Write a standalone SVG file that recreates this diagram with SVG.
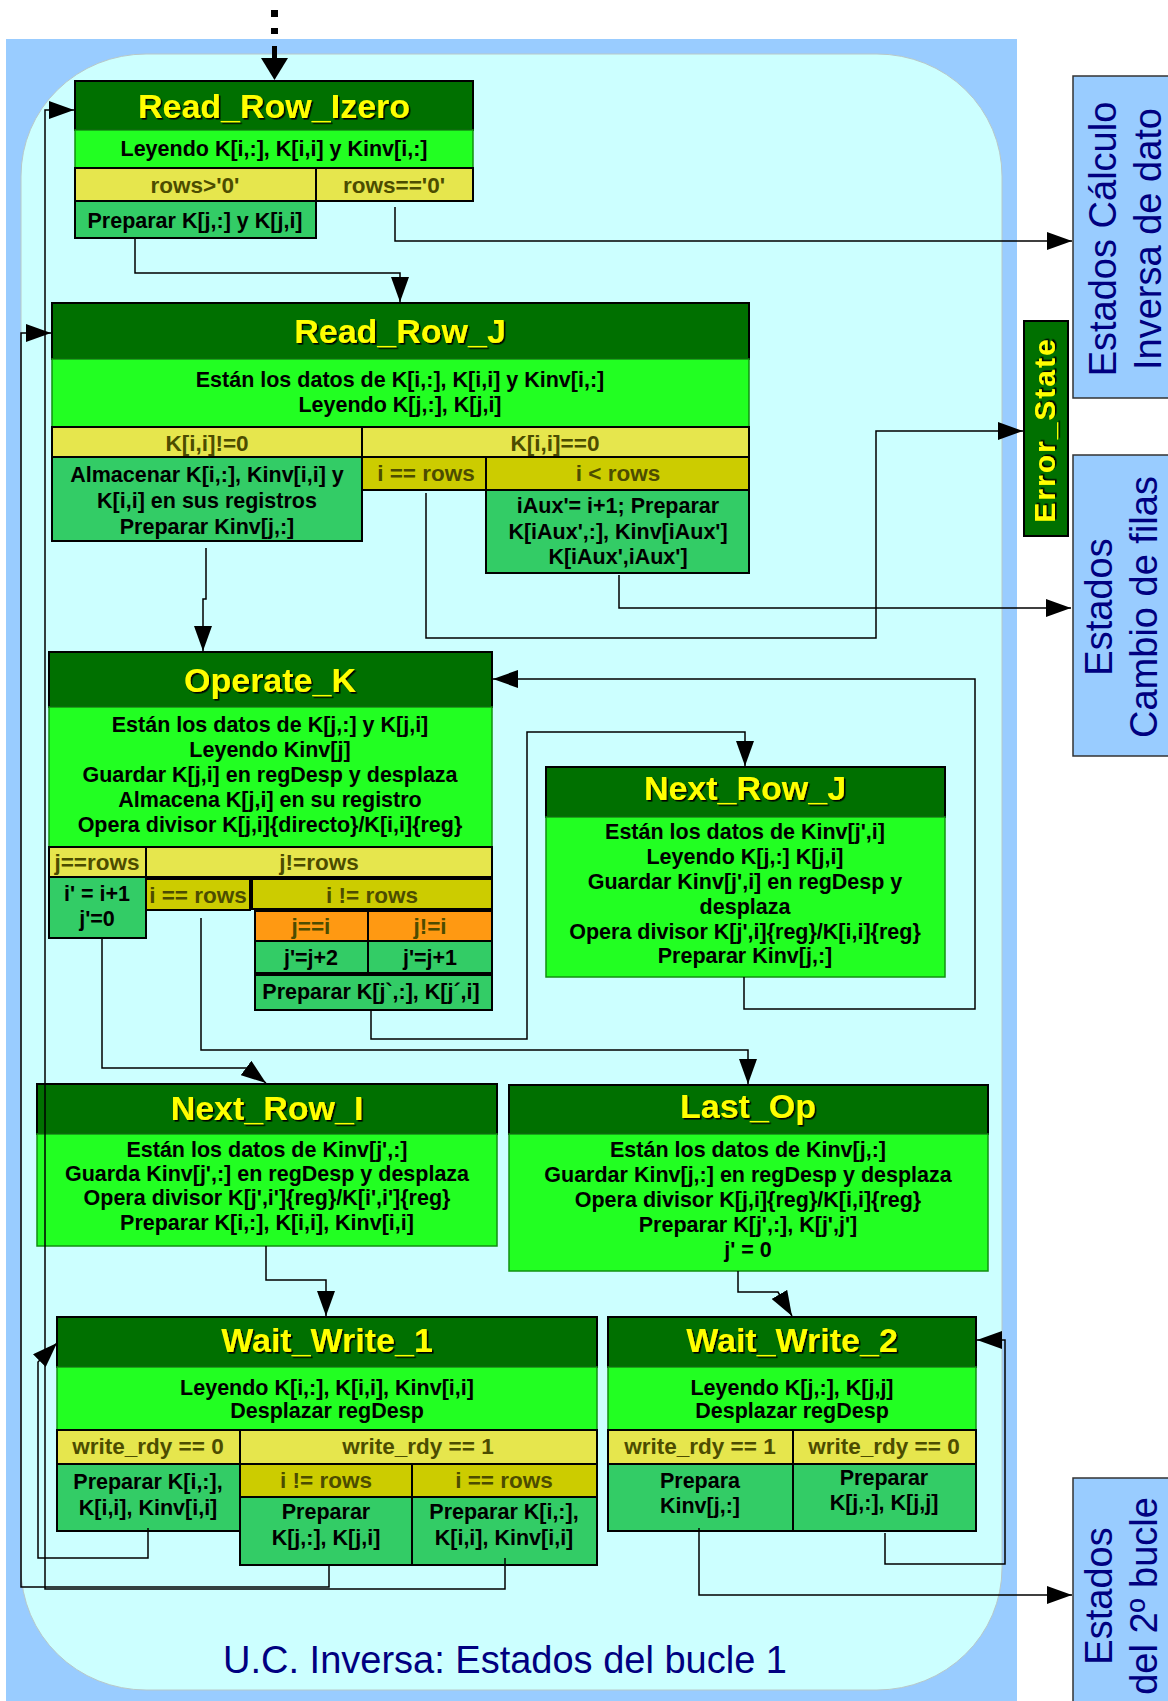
<svg xmlns="http://www.w3.org/2000/svg" width="1168" height="1701" viewBox="0 0 1168 1701">
<style>
.hdr{fill:#007000;stroke:#000;stroke-width:2}
.bdy{fill:#22ff22;stroke:#129012;stroke-width:1.5}
.cnd{fill:#e6e64d;stroke:#000;stroke-width:2}
.cnd2{fill:#cccc00;stroke:#000;stroke-width:2}
.org{fill:#ff9912;stroke:#000;stroke-width:2}
.act{fill:#33cc66;stroke:#000;stroke-width:2}
.side{fill:#99ccff;stroke:#333;stroke-width:1.5}
text{font-family:"Liberation Sans",Arial,sans-serif;text-anchor:middle}
.ttl{font-size:34px;font-weight:bold;fill:#ffff00;filter:url(#sh)}
.t{font-size:21.5px;font-weight:bold;fill:#000}
.c{font-size:22.5px;font-weight:bold;fill:#4c4c00}
.big{font-size:38px;fill:#000080}
.conn{fill:none;stroke:#000;stroke-width:1.5}
.arr{marker-end:url(#ah)}
</style>
<defs>
<filter id="sh" x="-5%" y="-20%" width="110%" height="140%">
<feDropShadow dx="1.6" dy="1.6" stdDeviation="0.2" flood-color="#000" flood-opacity="1"/>
</filter>
<marker id="ah" markerUnits="userSpaceOnUse" viewBox="0 0 25 18" markerWidth="25" markerHeight="18" refX="25" refY="9" orient="auto">
<path d="M0,0 L25,9 L0,18 z" fill="#000"/>
</marker>
</defs>

<g id="background">
<rect x="6" y="39" width="1011" height="1662" fill="#99ccff"/>
<rect x="21" y="54" width="981" height="1636" rx="125" ry="122" fill="#ccffff" stroke="#b8c8c8" stroke-width="1"/>
<text class="big" x="505" y="1673">U.C. Inversa: Estados del bucle 1</text>
</g>

<g id="read_row_izero">
<rect class="hdr" x="75" y="81" width="398" height="49"/>
<text class="ttl" x="274" y="118">Read_Row_Izero</text>
<rect class="bdy" x="75" y="130" width="398" height="38"/>
<text class="t" x="274" y="156">Leyendo K[i,:], K[i,i] y Kinv[i,:]</text>
<rect class="cnd" x="75" y="168" width="241" height="33"/>
<rect class="cnd" x="316" y="168" width="157" height="33"/>
<text class="c" x="195" y="193">rows&gt;'0'</text>
<text class="c" x="394" y="193">rows=='0'</text>
<rect class="act" x="75" y="201" width="241" height="37"/>
<text class="t" x="195" y="228">Preparar K[j,:] y K[j,i]</text>
</g>

<g id="read_row_j">
<rect class="hdr" x="52" y="303" width="697" height="56"/>
<text class="ttl" x="400" y="343">Read_Row_J</text>
<rect class="bdy" x="52" y="359" width="697" height="68"/>
<text class="t" x="400" y="387">Están los datos de K[i,:], K[i,i] y Kinv[i,:]</text>
<text class="t" x="400" y="412">Leyendo K[j,:], K[j,i]</text>
<rect class="cnd" x="52" y="427" width="310" height="30"/>
<rect class="cnd" x="362" y="427" width="387" height="30"/>
<text class="c" x="207" y="451">K[i,i]!=0</text>
<text class="c" x="555" y="451">K[i,i]==0</text>
<rect class="cnd2" x="362" y="457" width="124" height="33"/>
<rect class="cnd2" x="486" y="457" width="263" height="33"/>
<text class="c" x="426" y="481">i == rows</text>
<text class="c" x="618" y="481">i &lt; rows</text>
<rect class="act" x="52" y="457" width="310" height="84"/>
<text class="t" x="207" y="482">Almacenar K[i,:], Kinv[i,i] y</text>
<text class="t" x="207" y="508">K[i,i] en sus registros</text>
<text class="t" x="207" y="534">Preparar Kinv[j,:]</text>
<rect class="act" x="486" y="490" width="263" height="83"/>
<text class="t" x="618" y="513">iAux'= i+1; Preparar</text>
<text class="t" x="618" y="539">K[iAux',:], Kinv[iAux']</text>
<text class="t" x="618" y="564">K[iAux',iAux']</text>
</g>

<g id="operate_k">
<rect class="hdr" x="49" y="652" width="443" height="55"/>
<text class="ttl" x="270" y="692">Operate_K</text>
<rect class="bdy" x="49" y="707" width="443" height="140"/>
<text class="t" x="270" y="732">Están los datos de K[j,:] y K[j,i]</text>
<text class="t" x="270" y="757">Leyendo Kinv[j]</text>
<text class="t" x="270" y="782">Guardar K[j,i] en regDesp y desplaza</text>
<text class="t" x="270" y="807">Almacena K[j,i] en su registro</text>
<text class="t" x="270" y="832">Opera divisor K[j,i]{directo}/K[i,i]{reg}</text>
<rect class="cnd" x="49" y="847" width="97" height="30"/>
<rect class="cnd" x="146" y="847" width="346" height="30"/>
<text class="c" x="97" y="870">j==rows</text>
<text class="c" x="319" y="870">j!=rows</text>
<rect class="act" x="49" y="877" width="97" height="61"/>
<text class="t" x="97" y="901">i' = i+1</text>
<text class="t" x="97" y="926">j'=0</text>
<rect class="cnd2" x="146" y="879" width="104" height="31"/>
<rect class="cnd2" x="252" y="879" width="240" height="30"/>
<text class="c" x="198" y="903">i == rows</text>
<text class="c" x="372" y="903">i != rows</text>
<rect class="org" x="255" y="911" width="113" height="30"/>
<rect class="org" x="368" y="911" width="124" height="30"/>
<text class="c" x="311" y="934">j==i</text>
<text class="c" x="430" y="934">j!=i</text>
<rect class="act" x="255" y="941" width="113" height="32"/>
<rect class="act" x="368" y="941" width="124" height="32"/>
<text class="t" x="311" y="965">j'=j+2</text>
<text class="t" x="430" y="965">j'=j+1</text>
<rect class="act" x="255" y="975" width="237" height="35"/>
<text class="t" x="371" y="999">Preparar K[j`,:], K[j´,i]</text>
</g>

<g id="next_row_j">
<rect class="hdr" x="546" y="767" width="399" height="50"/>
<text class="ttl" x="745" y="800">Next_Row_J</text>
<rect class="bdy" x="546" y="817" width="399" height="160"/>
<text class="t" x="745" y="839">Están los datos de Kinv[j',i]</text>
<text class="t" x="745" y="864">Leyendo K[j,:] K[j,i]</text>
<text class="t" x="745" y="889">Guardar Kinv[j',i] en regDesp y</text>
<text class="t" x="745" y="914">desplaza</text>
<text class="t" x="745" y="939">Opera divisor K[j',i]{reg}/K[i,i]{reg}</text>
<text class="t" x="745" y="963">Preparar Kinv[j,:]</text>
</g>

<g id="next_row_i">
<rect class="hdr" x="37" y="1084" width="460" height="50"/>
<text class="ttl" x="267" y="1120">Next_Row_I</text>
<rect class="bdy" x="37" y="1134" width="460" height="112"/>
<text class="t" x="267" y="1157">Están los datos de Kinv[j',:]</text>
<text class="t" x="267" y="1181">Guarda Kinv[j',:] en regDesp y desplaza</text>
<text class="t" x="267" y="1205">Opera divisor K[j',i']{reg}/K[i',i']{reg}</text>
<text class="t" x="267" y="1230">Preparar K[i,:], K[i,i], Kinv[i,i]</text>
</g>

<g id="last_op">
<rect class="hdr" x="509" y="1085" width="479" height="49"/>
<text class="ttl" x="748" y="1118">Last_Op</text>
<rect class="bdy" x="509" y="1134" width="479" height="137"/>
<text class="t" x="748" y="1157">Están los datos de Kinv[j,:]</text>
<text class="t" x="748" y="1182">Guardar Kinv[j,:] en regDesp y desplaza</text>
<text class="t" x="748" y="1207">Opera divisor K[j,i]{reg}/K[i,i]{reg}</text>
<text class="t" x="748" y="1232">Preparar K[j',:], K[j',j']</text>
<text class="t" x="748" y="1257">j' = 0</text>
</g>

<g id="wait_write_1">
<rect class="hdr" x="57" y="1317" width="540" height="50"/>
<text class="ttl" x="327" y="1352">Wait_Write_1</text>
<rect class="bdy" x="57" y="1367" width="540" height="63"/>
<text class="t" x="327" y="1395">Leyendo K[i,:], K[i,i], Kinv[i,i]</text>
<text class="t" x="327" y="1418">Desplazar regDesp</text>
<rect class="cnd" x="57" y="1430" width="183" height="34"/>
<rect class="cnd" x="240" y="1430" width="357" height="34"/>
<text class="c" x="148" y="1454">write_rdy == 0</text>
<text class="c" x="418" y="1454">write_rdy == 1</text>
<rect class="act" x="57" y="1464" width="183" height="67"/>
<text class="t" x="148" y="1489">Preparar K[i,:],</text>
<text class="t" x="148" y="1515">K[i,i], Kinv[i,i]</text>
<rect class="cnd2" x="240" y="1464" width="172" height="33"/>
<rect class="cnd2" x="412" y="1464" width="185" height="33"/>
<text class="c" x="326" y="1488">i != rows</text>
<text class="c" x="504" y="1488">i == rows</text>
<rect class="act" x="240" y="1497" width="172" height="68"/>
<rect class="act" x="412" y="1497" width="185" height="68"/>
<text class="t" x="326" y="1519">Preparar</text>
<text class="t" x="326" y="1545">K[j,:], K[j,i]</text>
<text class="t" x="504" y="1519">Preparar K[i,:],</text>
<text class="t" x="504" y="1545">K[i,i], Kinv[i,i]</text>
</g>

<g id="wait_write_2">
<rect class="hdr" x="608" y="1317" width="368" height="50"/>
<text class="ttl" x="792" y="1352">Wait_Write_2</text>
<rect class="bdy" x="608" y="1367" width="368" height="63"/>
<text class="t" x="792" y="1395">Leyendo K[j,:], K[j,j]</text>
<text class="t" x="792" y="1418">Desplazar regDesp</text>
<rect class="cnd" x="608" y="1430" width="185" height="34"/>
<rect class="cnd" x="793" y="1430" width="183" height="34"/>
<text class="c" x="700" y="1454">write_rdy == 1</text>
<text class="c" x="884" y="1454">write_rdy == 0</text>
<rect class="act" x="608" y="1464" width="185" height="67"/>
<rect class="act" x="793" y="1464" width="183" height="67"/>
<text class="t" x="700" y="1488">Prepara</text>
<text class="t" x="700" y="1513">Kinv[j,:]</text>
<text class="t" x="884" y="1485">Preparar</text>
<text class="t" x="884" y="1510">K[j,:], K[j,j]</text>
</g>

<g id="error_state">
<rect x="1024" y="321" width="44" height="215" fill="#007000" stroke="#000" stroke-width="2"/>
<text class="ttl" transform="translate(1055,430) rotate(-90)" style="font-size:30px;letter-spacing:2px">Error_State</text>
</g>

<g id="estados_calculo">
<rect class="side" x="1073" y="76" width="100" height="322"/>
<text class="big" transform="translate(1116,239) rotate(-90)">Estados Cálculo</text>
<text class="big" transform="translate(1161,239) rotate(-90)">Inversa de dato</text>
</g>

<g id="estados_cambio">
<rect class="side" x="1073" y="455" width="100" height="301"/>
<text class="big" transform="translate(1112,607) rotate(-90)">Estados</text>
<text class="big" transform="translate(1157,607) rotate(-90)">Cambio de filas</text>
</g>

<g id="estados_bucle2">
<rect class="side" x="1073" y="1478" width="100" height="240"/>
<text class="big" transform="translate(1112,1596) rotate(-90)">Estados</text>
<text class="big" transform="translate(1157,1596) rotate(-90)">del 2º bucle</text>
</g>

<g id="connectors">
<rect x="271" y="10" width="7" height="7" fill="#000"/>
<rect x="271" y="28" width="7" height="6" fill="#000"/>
<line x1="274.5" y1="46" x2="274.5" y2="60" stroke="#000" stroke-width="5"/>
<polygon points="261,58 288,58 274.5,80" fill="#000"/>
<path class="conn arr" d="M135,238 V273 H400 V302"/>
<path class="conn arr" d="M395,207 V241 H1072"/>
<path class="conn arr" d="M206,548 V599 H203 V651"/>
<path class="conn arr" d="M426,493 V638 H876 V431 H1023"/>
<path class="conn arr" d="M619,575 V608 H1071"/>
<path class="conn arr" d="M102,938 V1068 H246 L266,1083"/>
<path class="conn arr" d="M201,918 V1050 H748 V1084"/>
<path class="conn arr" d="M371,1010 V1039 H527 V732 H745 V766"/>
<path class="conn arr" d="M744,977 V1009 H975 V679 H493"/>
<path class="conn arr" d="M266,1246 V1280 H326 V1316"/>
<path class="conn arr" d="M738,1271 V1292 H778 L792,1316"/>
<path class="conn arr" d="M148,1528 V1558 H38 V1362 L57,1343"/>
<path class="conn arr" d="M329,1565 V1587 H21 V333 H51"/>
<path class="conn arr" d="M505,1558 V1589 H45 V110 H74"/>
<path class="conn arr" d="M885,1533 V1564 H1005 V1340 H977"/>
<path class="conn arr" d="M699,1528 V1595 H1072"/>
</g>
</svg>
